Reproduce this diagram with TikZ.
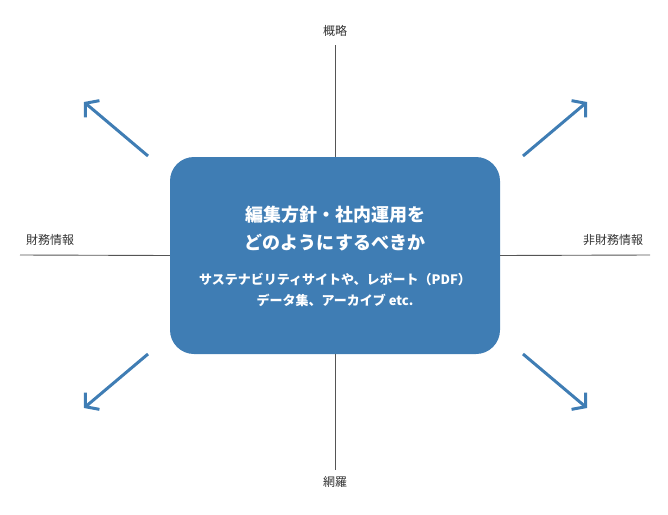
\documentclass[tikz,border=0pt]{standalone}
\usepackage{fontspec}
\setmainfont{Noto Sans CJK JP}
\usetikzlibrary{arrows.meta, positioning}
\definecolor{boxblue}{HTML}{3F7DB4}
\definecolor{axisgray}{HTML}{555555}
\definecolor{textgray}{HTML}{333333}

\begin{document}
\begin{tikzpicture}[%
        x=1pt, y=-1pt,
        axis/.style={draw=axisgray, line width=0.9pt},
        axislabel/.style={text=textgray, font=\fontsize{12}{14}\selectfont, inner sep=0pt},
        bluearrow/.style={draw=boxblue, line width=3pt, -{Straight Barb[length=9pt, width=22pt]}}
    ]
    \useasboundingbox (0,0) rectangle (668,514);

    % --- Center box ---
    \node (center) [fill=boxblue, rounded corners=24pt, minimum width=330pt,
        minimum height=197pt, inner sep=0pt] at (335,255.5) {};
    \node (title) [text=white, align=center, font=\fontsize{18}{28}\bfseries\selectfont]
        at (335,229) {編集方針・社内運用を\\どのようにするべきか};
    \node (sub) [text=white, align=center, font=\fontsize{13}{21}\bfseries\selectfont]
        at (335,290) {サステナビリティサイトや、レポート（PDF）\\データ集、アーカイブ etc.};

    % --- Axes ---
    \coordinate (top) at (335,45);
    \coordinate (bottom) at (335,470);
    \coordinate (left) at (20,255);
    \coordinate (right) at (650,255);
    \draw[axis] (top) -- (center.north);
    \draw[axis] (center.south) -- (bottom);
    \draw[axis] (left) -- (center.west);
    \draw[axis] (center.east) -- (right);

    \node (gairyaku) [axislabel] at (335,31) {概略};
    \node (mora) [axislabel] at (335,482) {網羅};
    \node (zaimu) [axislabel] at (50,240) {財務情報};
    \node (hizaimu) [axislabel] at (613,240) {非財務情報};

    % --- Diagonal arrows ---
    \coordinate (tlA) at (148,156); \coordinate (tlB) at (84,102);
    \coordinate (trA) at (523,156); \coordinate (trB) at (587,102);
    \coordinate (blA) at (148,354); \coordinate (blB) at (84,408);
    \coordinate (brA) at (523,354); \coordinate (brB) at (587,408);
    \foreach \a/\b in {tlA/tlB, trA/trB, blA/blB, brA/brB}
        \draw[bluearrow] (\a) -- (\b);
\end{tikzpicture}
\end{document}
